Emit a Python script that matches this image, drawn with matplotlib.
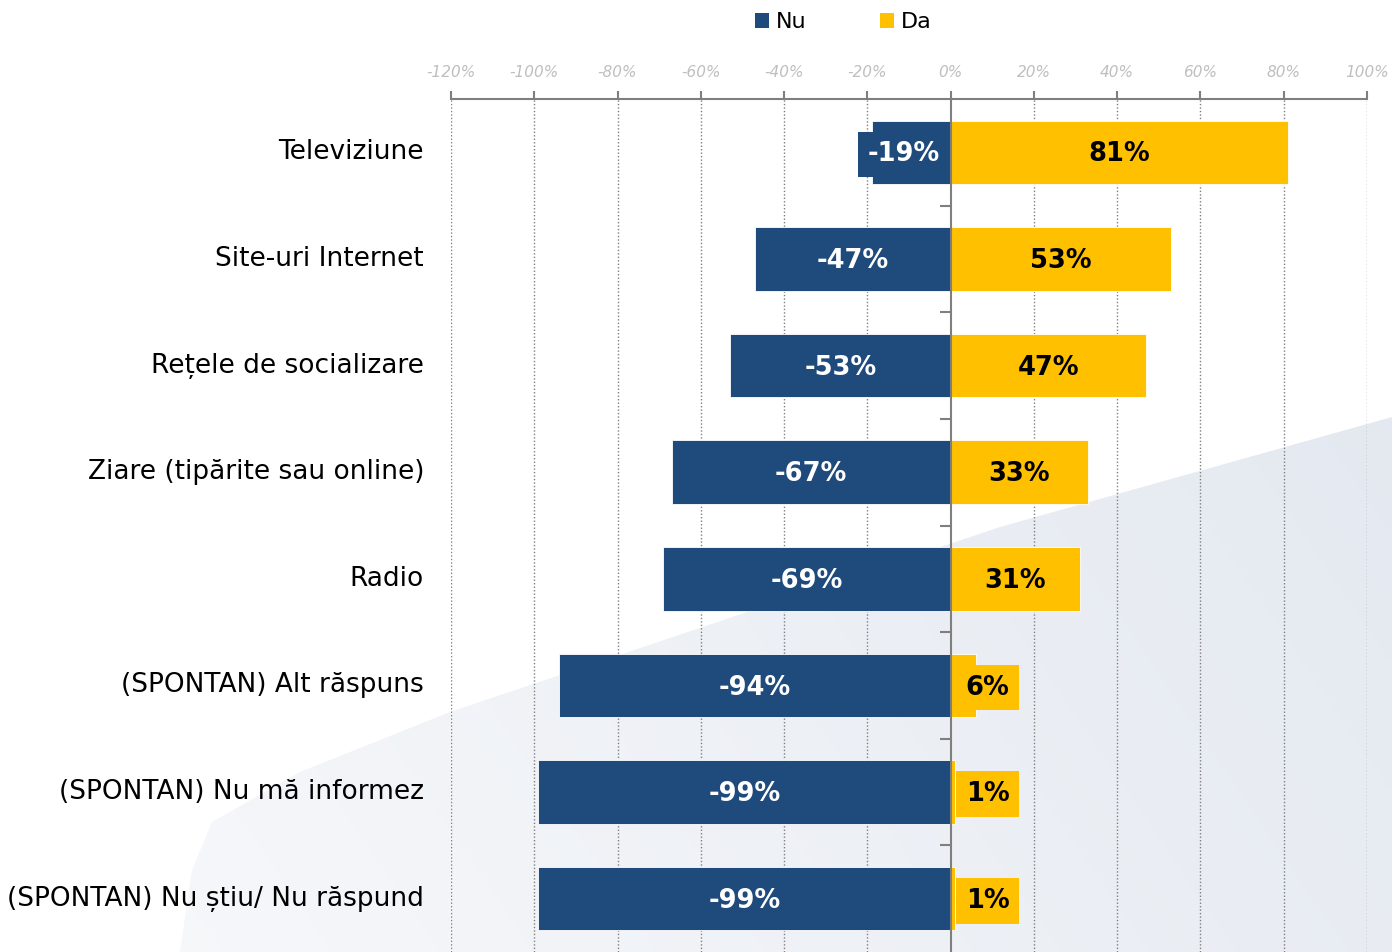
import matplotlib
matplotlib.use("Agg")
import matplotlib.pyplot as plt
from matplotlib.patches import Patch, Polygon
import numpy as np

categories = ["Televiziune", "Site-uri Internet", "Rețele de socializare",
              "Ziare (tipărite sau online)", "Radio", "(SPONTAN) Alt răspuns",
              "(SPONTAN) Nu mă informez", "(SPONTAN) Nu știu/ Nu răspund"]
nu = [-19, -47, -53, -67, -69, -94, -99, -99]
da = [81, 53, 47, 33, 31, 6, 1, 1]
xticks = [-120, -100, -80, -60, -40, -20, 0, 20, 40, 60, 80, 100]

BLUE = "#1F4A7C"
GOLD = "#FFC000"
GRID = "#7F7F7F"

plt.rcParams['font.family'] = ['DejaVu Sans']
W, H = 1392, 952
fig = plt.figure(figsize=(W / 100, H / 100), dpi=100)

# decorative background shape with soft gradient
bg = fig.add_axes([0, 0, 1, 1], zorder=0)
bg.set_xlim(0, W)
bg.set_ylim(H, 0)
bg.axis("off")
pts = [(180, 952), (192, 870), (212, 822), (300, 772), (450, 712), (1000, 527),
       (1392, 417), (1392, 952)]
poly = Polygon(pts, closed=True, facecolor="none", edgecolor="none")
bg.add_patch(poly)
gx, gy = np.meshgrid(np.linspace(0, 1, 200), np.linspace(0, 1, 140))
t = np.clip(0.75 * gx + 0.35 * (1 - gy), 0, 1)
c0 = np.array([0xF8, 0xF9, 0xFB]) / 255
c1 = np.array([0xE3, 0xE8, 0xF0]) / 255
img = c0[None, None, :] * (1 - t[..., None]) + c1[None, None, :] * t[..., None]
im = bg.imshow(img, extent=(0, W, H, 0), aspect="auto", interpolation="bilinear")
im.set_clip_path(poly)

ax = fig.add_axes([451 / W, 0, (1367 - 451) / W, (952 - 99) / H], zorder=1)
ax.patch.set_alpha(0)

y = np.arange(len(categories))
ax.barh(y, nu, height=0.595, color=BLUE, edgecolor="white", linewidth=0.6, zorder=3)
ax.barh(y, da, height=0.595, color=GOLD, edgecolor="white", linewidth=0.6, zorder=3)

ax.set_xlim(-120, 100)
ax.set_ylim(len(categories) - 0.5, -0.5)

# x axis on top
ax.xaxis.tick_top()
ax.set_xticks(xticks)
ax.set_xticklabels([f"{t}%" for t in xticks], fontsize=11, fontstyle="italic", color="#BFBFBF")
ax.tick_params(axis="x", direction="out", length=6, width=1.5, color=GRID, pad=8)
for t in xticks:
    if t != 0:
        ax.axvline(t, color=GRID, linestyle=(0, (1, 1.5)), linewidth=1, zorder=1)

for s in ["left", "bottom"]:
    ax.spines[s].set_visible(False)
ax.spines["top"].set_color(GRID)
ax.spines["top"].set_linewidth(1.5)
ax.spines["right"].set_position(("data", 0))
ax.spines["right"].set_color(GRID)
ax.spines["right"].set_linewidth(1.5)
ax.spines["right"].set_zorder(4)

ax.yaxis.tick_right()
ax.set_yticks(y)
ax.set_yticks(y[:-1] + 0.5, minor=True)
ax.set_yticklabels([])
ax.tick_params(axis="y", which="major", direction="out", length=6, width=1.5, color=GRID)
ax.tick_params(axis="y", which="minor", direction="in", length=8, width=1.5, color=GRID)

# category labels
for yi, c in zip(y, categories):
    ax.text(-27 / 916, yi, c, transform=ax.get_yaxis_transform(), ha="right", va="center",
            fontsize=19, color="black")

# value labels
for yi, v in zip(y, nu):
    cx = min(v / 2, -11.3)
    ax.text(cx, yi + 0.02, f"{v}%", ha="center", va="center", fontsize=18.5, fontweight="bold",
            color="white", zorder=5,
            bbox=dict(boxstyle="square,pad=0.38", facecolor=BLUE, edgecolor="none"))
for yi, v in zip(y, da):
    cx = v / 2 if v >= 15 else 8.9
    ax.text(cx, yi + 0.02, f"{v}%", ha="center", va="center", fontsize=18.5, fontweight="bold",
            color="black", zorder=5,
            bbox=dict(boxstyle="square,pad=0.38", facecolor=GOLD, edgecolor="none"))

handles = [Patch(facecolor=BLUE, label="Nu"), Patch(facecolor=GOLD, label="Da")]
fig.legend(handles=handles, loc="center", bbox_to_anchor=(843 / W, 1 - 22 / H), ncol=2,
           frameon=False, fontsize=16, handlelength=0.65, handleheight=0.65,
           handletextpad=0.3, columnspacing=3.3)

fig.savefig("out.png", dpi=100)
